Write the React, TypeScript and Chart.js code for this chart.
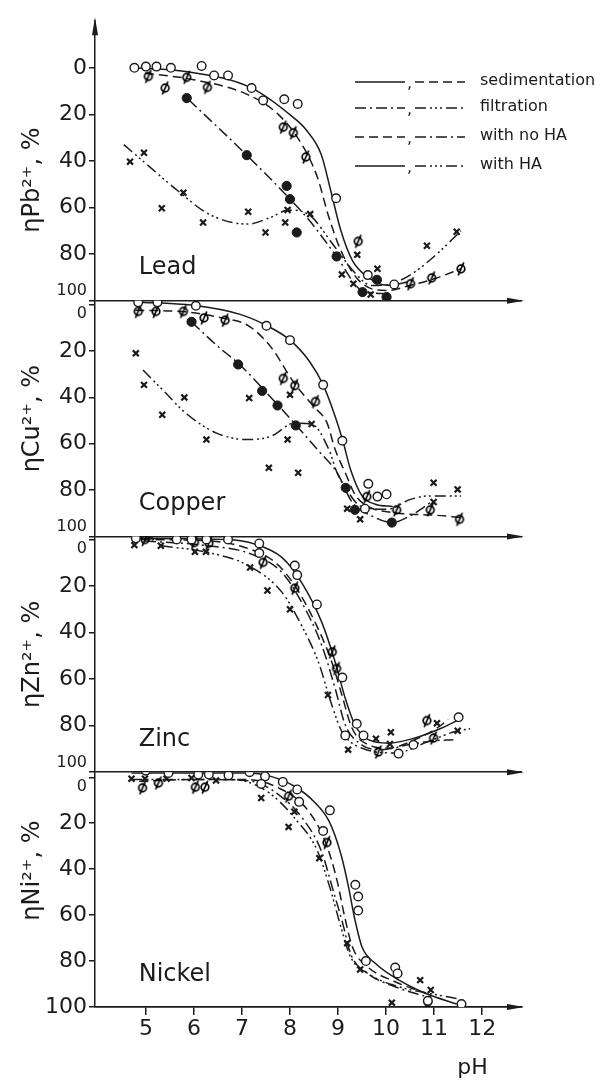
import React, { useEffect, useRef } from 'react';
import { Chart, registerables } from 'chart.js';

Chart.register(...registerables);

const FONT = '"DejaVu Sans", "Liberation Sans", sans-serif';
const INK = '#1b1b1b';
const NB = '\u00A0';

type XY = [number, number];

// ---------- axes ----------
const X_MIN = 3.94;
const X_MAX = 12.83;
const X_TICKS = [5, 6, 7, 8, 9, 10, 11, 12];
const Y_TICKS = [0, 20, 40, 60, 80, 100];
const PANEL_NAMES = ['Lead', 'Copper', 'Zinc', 'Nickel'];
const ION_TITLES = ['ηPb²⁺, %' + NB.repeat(5), 'ηCu²⁺, %', 'ηZn²⁺, %', NB.repeat(5) + 'ηNi²⁺, %'];
const PANEL_MIN = [-20, -1.7, -1.3, -2.2];
const PANEL_MAX = [100, 100, 100, 100];
const LEGEND_LABELS = ['sedimentation', 'filtration', 'with no HA', 'with HA'];

// ---------- Lead ----------
const leadSedHAPts: XY[] = [[4.76, 0], [5.0, -0.5], [5.22, -0.5], [5.52, 0], [6.16, -0.8], [6.42, 3.3], [6.71, 3.3], [7.2, 8.7], [7.44, 14], [7.88, 13.5], [8.16, 15.5], [8.96, 56], [9.62, 89], [10.17, 93]];
const leadSedNoHAPts: XY[] = [[5.05, 3.7], [5.4, 8.7], [5.85, 4.1], [6.28, 8.4], [7.86, 25.5], [8.07, 27.9], [8.33, 38.3], [9.42, 74.5], [10.51, 92.7], [10.95, 90.2], [11.56, 86.3]];
const leadFiltNoHAPts: XY[] = [[5.85, 13], [7.1, 37.5], [7.93, 50.7], [8.0, 56.4], [8.14, 70.7], [8.97, 81], [9.51, 96.3], [9.81, 91], [10.01, 98.4]];
const leadFiltHAPts: XY[] = [[4.67, 40.3], [4.96, 36.5], [5.33, 60.3], [5.78, 53.6], [6.19, 66.4], [7.13, 61.8], [7.49, 70.7], [7.9, 66.4], [7.95, 61], [8.42, 62.8], [9.08, 88.7], [9.32, 92.7], [9.4, 80.3], [9.68, 97.3], [9.82, 86.3], [10.85, 76.4], [11.47, 70.4]];
const leadSedHACurve: XY[] = [[4.78, 0], [5.83, 1.6], [7.2, 8.7], [8.08, 21.5], [8.33, 26.5], [8.65, 37.2], [8.85, 52.9], [9.06, 70], [9.3, 82.8], [9.62, 89.9], [10.02, 93.4], [10.45, 92]];
const leadSedNoHACurve: XY[] = [[4.98, 2.3], [5.99, 5.1], [7.12, 11.5], [7.76, 20.1], [8.25, 33], [8.57, 47], [8.81, 64.2], [9.06, 78.5], [9.38, 90], [9.7, 94.9], [10.02, 95.6], [10.51, 93.4], [11.0, 90.6], [11.56, 86.3]];
const leadFiltNoHACurve: XY[] = [[5.89, 13.7], [7.12, 37.9], [7.97, 55.7], [8.41, 65.7], [8.98, 81.3], [9.5, 95.6], [10.02, 97]];
const leadFiltHACurve: XY[] = [[4.54, 33], [5.02, 41.5], [5.67, 52.9], [6.31, 62.8], [7.12, 67.1], [7.6, 64.2], [7.97, 61.1], [8.42, 63.5], [8.9, 76], [9.35, 88], [9.7, 93.5], [10.05, 93], [10.5, 89], [11.0, 81], [11.56, 70]];

// ---------- Copper ----------
const copperSedHAPts: XY[] = [[4.84, -1], [5.24, -1], [6.04, 0.5], [7.51, 9.1], [8.0, 15.3], [8.69, 34.6], [9.09, 58.7], [9.56, 88], [9.63, 77.3], [9.82, 82.8], [10.01, 81.8]];
const copperSedNoHAPts: XY[] = [[4.84, 2.9], [5.21, 2.9], [5.78, 2.9], [6.21, 5.7], [6.65, 6.7], [7.86, 31.8], [8.1, 34.9], [8.53, 41.8], [9.6, 82.8], [10.22, 88.5], [10.92, 88.5], [11.53, 92.6]];
const copperFiltNoHAPts: XY[] = [[5.95, 7.4], [6.92, 25.8], [7.42, 37.2], [7.74, 43.5], [8.12, 52.1], [9.16, 79], [9.35, 88.5], [10.12, 94]];
const copperFiltHAPts: XY[] = [[4.79, 21], [4.96, 34.6], [5.34, 47.5], [5.8, 40], [6.26, 58.2], [7.15, 40.3], [7.56, 70.4], [7.95, 58.2], [8.0, 38.9], [8.17, 72.5], [8.45, 51.5], [9.19, 88], [9.46, 92.6], [10.99, 76.8], [10.99, 85.1], [11.49, 79.7]];
const copperSedHACurve: XY[] = [[4.78, -1.2], [5.99, 0.3], [6.96, 4.2], [7.52, 9.1], [8.0, 15.3], [8.41, 24.6], [8.69, 34.6], [8.94, 48.2], [9.1, 58.7], [9.26, 71.1], [9.5, 82.5], [9.78, 86.1], [10.14, 87.1]];
const copperSedNoHACurve: XY[] = [[4.78, 2.4], [5.83, 3.1], [6.64, 6], [7.12, 8.9], [7.6, 18.2], [8.09, 33.9], [8.49, 43.9], [8.77, 51], [8.94, 62.5], [9.15, 72.5], [9.35, 81.8], [9.6, 86.8], [10.15, 89.7], [10.51, 90.4], [11.0, 90.8], [11.56, 91.8]];
const copperFiltNoHACurve: XY[] = [[5.95, 7.4], [6.47, 17.5], [6.96, 26], [7.52, 38.2], [8.09, 51.1], [8.57, 62.5], [8.98, 72.5], [9.3, 85.4], [9.7, 91.1], [10.12, 94], [10.51, 91], [10.95, 85]];
const copperFiltHACurve: XY[] = [[4.94, 28.2], [5.35, 36.8], [5.83, 46.8], [6.47, 55.4], [7.12, 58.2], [7.6, 56.8], [8.09, 51.1], [8.45, 51.5], [8.81, 62.5], [8.98, 72.5], [9.22, 81.1], [9.46, 86.8], [10.02, 88.3], [10.51, 84], [10.91, 82.5], [11.56, 82.5]];

// ---------- Zinc ----------
const zincSedHAPts: XY[] = [[4.79, -0.5], [5.64, 0], [5.95, 0], [6.26, 0], [6.71, 0], [7.36, 1.7], [7.36, 5.8], [8.1, 11.2], [8.15, 15.3], [8.56, 27.9], [9.09, 59.3], [9.39, 79.2], [9.15, 84.2], [9.53, 84.2], [10.26, 92], [10.57, 88.2], [11.51, 76.4]];
const zincSedNoHAPts: XY[] = [[4.98, 0], [6.01, 1.3], [6.31, 1.6], [7.44, 9.8], [8.1, 20.9], [8.88, 48.3], [8.97, 55.4], [9.84, 91.3], [10.85, 77.8], [10.99, 85.3]];
const zincFiltHAPts: XY[] = [[4.76, 2.4], [5.1, -1], [5.31, 2.7], [6.02, 5.3], [6.25, 5.3], [7.17, 12], [7.53, 21.9], [8.0, 30], [8.79, 66.8], [9.21, 90.3], [9.79, 85.6], [10.1, 82.8], [10.08, 87.9], [11.06, 78.9], [11.49, 82.2]];
const zincSedHACurve: XY[] = [[4.84, -0.5], [6.71, 0], [7.27, 2], [7.83, 7.7], [8.24, 18.4], [8.66, 35.5], [8.94, 52.6], [9.15, 68.2], [9.35, 79.6], [9.63, 86], [10.05, 87.5], [10.6, 85.3], [11.16, 81], [11.51, 77.5]];
const zincSedNoHACurve: XY[] = [[4.91, 0], [6.3, 0.6], [7.06, 3.4], [7.69, 9.8], [8.1, 19.8], [8.52, 35.5], [8.87, 52.6], [9.08, 66.8], [9.29, 81], [9.63, 88.2], [10.05, 89.6], [10.6, 86], [11.16, 79.6], [11.29, 77.2]];
const zincFiltNoHACurve: XY[] = [[4.98, 0.6], [6.3, 2.7], [7.2, 6.3], [7.83, 14.1], [8.24, 26.9], [8.66, 45.4], [8.94, 64], [9.15, 79.6], [9.49, 88.2], [9.91, 90.3], [10.46, 88.2], [11.0, 86.5], [11.4, 86]];
const zincFiltHACurve: XY[] = [[5.33, 2.7], [6.3, 5.6], [7.13, 11.2], [7.83, 22.6], [8.24, 36.9], [8.59, 52.6], [8.87, 71.1], [9.08, 82.5], [9.49, 89.6], [10.19, 91.7], [10.88, 86.8], [11.44, 82.5], [11.75, 81.3]];

// ---------- Nickel ----------
const nickelSedHAPts: XY[] = [[4.69, -4.8], [5.0, -2.9], [5.47, -1.9], [6.09, -1.2], [6.31, -1.2], [6.72, -0.9], [7.16, -2.2], [7.48, -0.4], [7.4, 2.9], [7.85, 2], [8.15, 5.3], [8.19, 10.7], [8.69, 23.4], [8.83, 14.4], [9.36, 46.8], [9.42, 51.9], [9.42, 58], [9.58, 80], [10.19, 82.8], [10.24, 85.4], [10.87, 97.3], [11.57, 98.7]];
const nickelSedNoHAPts: XY[] = [[4.93, 4.6], [5.26, 2.5], [6.03, 4.3], [6.23, 4.3], [7.97, 8.2], [8.77, 28.4], [10.87, 97.7]];
const nickelFiltHAPts: XY[] = [[4.7, 0.6], [4.98, 0.6], [5.43, 0.6], [5.95, 0.3], [6.46, 1.4], [7.4, 9], [7.97, 21.6], [8.09, 15], [8.61, 35.2], [9.19, 72.2], [9.46, 83.7], [10.12, 98.1], [10.71, 88.3], [10.93, 92.6]];
const nickelSedHACurve: XY[] = [[4.7, -1.9], [7.12, -1.9], [7.6, -0.4], [8.09, 3.9], [8.49, 10.4], [8.81, 19], [9.06, 33.5], [9.22, 47.9], [9.34, 60.9], [9.5, 73.9], [9.78, 81.1], [10.27, 88.3], [10.83, 94.1], [11.47, 98.7]];
const nickelSedNoHACurve: XY[] = [[4.86, 1.7], [5.99, 1], [7.12, 1], [7.76, 4.6], [8.33, 13.3], [8.73, 27.7], [8.98, 45], [9.14, 60.9], [9.3, 73.9], [9.62, 82.6], [10.19, 89], [10.83, 94.1]];
const nickelFiltNoHACurve: XY[] = [[6.47, 1], [7.2, 1.7], [7.76, 7.5], [8.25, 17.6], [8.65, 32], [8.9, 49.4], [9.1, 63.8], [9.26, 76.8], [9.62, 85.4], [10.19, 91.2], [10.83, 95.5]];
const nickelFiltHACurve: XY[] = [[4.7, 1], [6.8, 1], [7.52, 6.1], [8.09, 17.6], [8.57, 32], [8.85, 49.4], [9.06, 65.2], [9.26, 78.2], [9.62, 85.4], [10.27, 91.2], [10.91, 94.1], [11.47, 96.3]];

// ---------- styles ----------
const DASH_SOLID: number[] = [];
const DASH_DASHED = [9, 5];
const DASH_DOT = [11, 4, 2, 4];
const DASH_DOTDOT = [11, 4, 2, 3, 2, 3, 2, 4];
const LEGEND_DASHES = [[DASH_SOLID, DASH_DASHED], [DASH_DOT, DASH_DOTDOT], [DASH_DASHED, DASH_DOT], [DASH_SOLID, DASH_DOTDOT]];
const AXES = ['yPb', 'yCu', 'yZn', 'yNi'];
const STACK_WEIGHTS = [281, 237, 237, 236];

type Panel = {
  sedHA: XY[]; sedNoHA: XY[]; filtNoHA: XY[]; filtHA: XY[];
  sedHAC: XY[]; sedNoHAC: XY[]; filtNoHAC: XY[]; filtHAC: XY[];
};
const PANELS: Panel[] = [
  { sedHA: leadSedHAPts, sedNoHA: leadSedNoHAPts, filtNoHA: leadFiltNoHAPts, filtHA: leadFiltHAPts, sedHAC: leadSedHACurve, sedNoHAC: leadSedNoHACurve, filtNoHAC: leadFiltNoHACurve, filtHAC: leadFiltHACurve },
  { sedHA: copperSedHAPts, sedNoHA: copperSedNoHAPts, filtNoHA: copperFiltNoHAPts, filtHA: copperFiltHAPts, sedHAC: copperSedHACurve, sedNoHAC: copperSedNoHACurve, filtNoHAC: copperFiltNoHACurve, filtHAC: copperFiltHACurve },
  { sedHA: zincSedHAPts, sedNoHA: zincSedNoHAPts, filtNoHA: [], filtHA: zincFiltHAPts, sedHAC: zincSedHACurve, sedNoHAC: zincSedNoHACurve, filtNoHAC: zincFiltNoHACurve, filtHAC: zincFiltHACurve },
  { sedHA: nickelSedHAPts, sedNoHA: nickelSedNoHAPts, filtNoHA: [], filtHA: nickelFiltHAPts, sedHAC: nickelSedHACurve, sedNoHAC: nickelSedNoHACurve, filtNoHAC: nickelFiltNoHACurve, filtHAC: nickelFiltHACurve },
];

const toPts = (a: XY[]) => a.map(([x, y]) => ({ x, y }));

function makePhi(): HTMLCanvasElement {
  const c = document.createElement('canvas');
  c.width = 14; c.height = 16;
  const g = c.getContext('2d')!;
  g.strokeStyle = '#000000';
  g.lineWidth = 1.7;
  g.beginPath(); g.arc(7, 8, 3.8, 0, Math.PI * 2); g.stroke();
  g.beginPath(); g.moveTo(4.2, 14.5); g.lineTo(9.8, 1.5); g.stroke();
  return c;
}

export default function App() {
  const ref = useRef<HTMLCanvasElement>(null);

  useEffect(() => {
    const canvas = ref.current!;
    const phi = makePhi();
    const datasets: any[] = [];
    const curve = (d: XY[], axis: string, dash: number[]) => ({
      data: toPts(d), yAxisID: axis, showLine: true, borderColor: INK, borderWidth: 1.5,
      borderDash: dash, pointRadius: 0, pointHoverRadius: 0, cubicInterpolationMode: 'monotone', fill: false, order: 2,
    });
    const marks = (d: XY[], axis: string, kind: string) => {
      const base: any = { data: toPts(d), yAxisID: axis, showLine: false, order: 1, pointHoverRadius: 0 };
      if (kind === 'open') Object.assign(base, { pointStyle: 'circle', pointRadius: 4.3, pointBackgroundColor: '#ffffff', pointBorderColor: INK, pointBorderWidth: 1.4 });
      if (kind === 'dot') Object.assign(base, { pointStyle: 'circle', pointRadius: 4.6, pointBackgroundColor: INK, pointBorderColor: INK, pointBorderWidth: 1 });
      if (kind === 'cross') Object.assign(base, { pointStyle: 'crossRot', pointRadius: 4.2, pointBorderColor: INK, pointBorderWidth: 2.2 });
      if (kind === 'phi') Object.assign(base, { pointStyle: phi, pointRadius: 5 });
      return base;
    };
    PANELS.forEach((p, i) => {
      const a = AXES[i];
      datasets.push(curve(p.sedHAC, a, DASH_SOLID));
      datasets.push(curve(p.sedNoHAC, a, DASH_DASHED));
      datasets.push(curve(p.filtNoHAC, a, DASH_DOT));
      datasets.push(curve(p.filtHAC, a, DASH_DOTDOT));
      datasets.push(marks(p.sedHA, a, 'open'));
      datasets.push(marks(p.sedNoHA, a, 'phi'));
      datasets.push(marks(p.filtNoHA, a, 'dot'));
      datasets.push(marks(p.filtHA, a, 'cross'));
    });

    const scales: any = {
      x: {
        type: 'linear', position: 'bottom', min: X_MIN, max: X_MAX,
        afterBuildTicks: (s: any) => { s.ticks = X_TICKS.map((v) => ({ value: v })); },
        afterFit: (s: any) => { s.height = 74; },
        border: { display: true, color: INK, width: 1.5 },
        grid: { drawOnChartArea: false, drawTicks: true, tickLength: 8, tickColor: INK, lineWidth: 1.5 },
        ticks: { color: INK, padding: 1, font: { family: FONT, size: 22 }, autoSkip: false, maxRotation: 0 },
      },
    };
    AXES.forEach((id, i) => {
      const last = i === AXES.length - 1;
      scales[id] = {
        type: 'linear', position: 'left', stack: 'panels', stackWeight: STACK_WEIGHTS[i], weight: 4 - i,
        reverse: true, min: PANEL_MIN[i], max: PANEL_MAX[i],
        afterBuildTicks: (s: any) => { s.ticks = Y_TICKS.map((v) => ({ value: v })); },
        afterFit: (s: any) => { s.width = 95; },
        border: { display: true, color: INK, width: 1.5 },
        grid: {
          drawOnChartArea: true, drawTicks: true, tickLength: 6, tickColor: INK, lineWidth: 1.5,
          color: (c: any) => (c.tick && c.tick.value === 100 ? INK : 'rgba(0,0,0,0)'),
        },
        ticks: {
          color: INK, padding: 2, autoSkip: false,
          font: (c: any) => ({ family: FONT, size: c.tick && ((c.tick.value === 100 && !last) || (c.tick.value === 0 && i > 0)) ? 16 : 22 }),
          callback: (v: number) => (v === 100 && !last ? ['100', ''] : v === 0 && i > 0 ? ['', '0'] : String(v)),
        },
        title: { display: true, text: ION_TITLES[i], color: INK, font: { family: FONT, size: 24 }, padding: { top: 18, bottom: 0 } },
      };
    });

    const decor = {
      id: 'decor',
      afterDraw(chart: any) {
        const ctx: CanvasRenderingContext2D = chart.ctx;
        const area = chart.chartArea;
        const xs = chart.scales.x;
        ctx.save();
        ctx.fillStyle = INK;
        ctx.strokeStyle = INK;
        AXES.forEach((id) => {
          const y = chart.scales[id].getPixelForValue(100);
          ctx.beginPath();
          ctx.moveTo(area.right + 2, y);
          ctx.lineTo(area.right - 15, y - 3);
          ctx.lineTo(area.right - 15, y + 3);
          ctx.closePath();
          ctx.fill();
        });
        ctx.beginPath();
        ctx.moveTo(area.left, area.top - 4);
        ctx.lineTo(area.left - 3, area.top + 14);
        ctx.lineTo(area.left + 3, area.top + 14);
        ctx.closePath();
        ctx.fill();
        ctx.font = `24px ${FONT}`;
        ctx.textAlign = 'left';
        ctx.textBaseline = 'middle';
        PANEL_NAMES.forEach((n, i) => {
          ctx.fillText(n, xs.getPixelForValue(4.85), chart.scales[AXES[i]].getPixelForValue(86));
        });
        ctx.font = `22px ${FONT}`;
        ctx.textAlign = 'center';
        ctx.fillText('pH', xs.getPixelForValue(11.8), xs.bottom - 13);
        const rows = [82, 108, 137, 166];
        ctx.lineWidth = 1.5;
        rows.forEach((ry, r) => {
          const [d1, d2] = LEGEND_DASHES[r];
          ctx.setLineDash(d1);
          ctx.beginPath(); ctx.moveTo(355, ry); ctx.lineTo(405, ry); ctx.stroke();
          ctx.setLineDash(d2);
          ctx.beginPath(); ctx.moveTo(415, ry); ctx.lineTo(465, ry); ctx.stroke();
          ctx.setLineDash([]);
          ctx.font = `16px ${FONT}`;
          ctx.textAlign = 'left';
          ctx.textBaseline = 'middle';
          ctx.fillText(',', 407, ry + 2);
          ctx.fillText(LEGEND_LABELS[r], 480, ry - 1);
        });
        ctx.restore();
      },
    };

    const chart = new Chart(canvas, {
      type: 'scatter',
      data: { datasets },
      options: {
        animation: false,
        responsive: false,
        devicePixelRatio: 1,
        layout: { padding: { top: 16, right: 85, left: 0, bottom: 0 } },
        plugins: { legend: { display: false }, tooltip: { enabled: false } },
        events: [],
        scales,
      } as any,
      plugins: [decor],
    });
    return () => chart.destroy();
  }, []);

  return (
    <div style={{ position: 'fixed', left: 0, top: 0, width: 607, height: 1081, background: '#ffffff' }}>
      <canvas ref={ref} width={607} height={1081} style={{ display: 'block', width: 607, height: 1081 }} />
    </div>
  );
}
